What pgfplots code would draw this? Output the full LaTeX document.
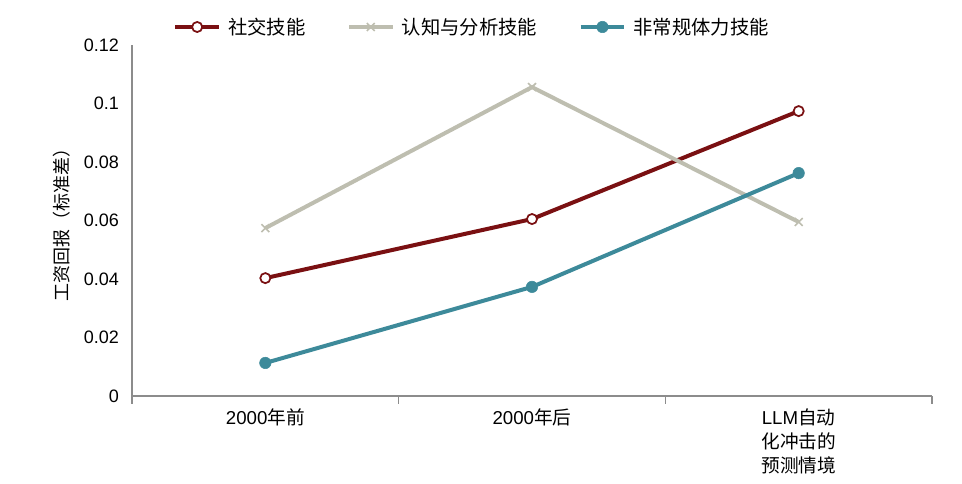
\documentclass[border=0pt]{standalone}
\usepackage{pgfplots}
\pgfplotsset{compat=1.18}
\usepackage{fontspec}
\setmainfont{Liberation Sans}
\newfontfamily\cjk{Noto Sans CJK SC}
\definecolor{cRed}{HTML}{7A1012}
\definecolor{cGray}{HTML}{BEBEB0}
\definecolor{cTeal}{HTML}{3D8A9A}
\definecolor{cAxis}{HTML}{8C8C8C}
\begin{document}
\begin{tikzpicture}
\begin{axis}[
  scale only axis,
  width=600pt, height=263.25pt,
  at={(0,0)}, anchor=south west,
  xmin=-0.5, xmax=2.5,
  ymin=0, ymax=0.12,
  axis x line*=bottom, axis y line*=left,
  axis line style={cAxis, line width=0.8pt},
  xtick={0,1,2},
  xticklabels={{2000{\cjk 年前}},{2000{\cjk 年后}},{LLM{\cjk 自动}\\{\cjk 化冲击的}\\{\cjk 预测情境}}},
  x tick label style={align=center, font=\fontsize{14}{18}\selectfont, yshift=-1.5pt},
  major x tick style={draw=none},
  minor xtick={-0.5,0.5,1.5,2.5},
  minor x tick style={cAxis, line width=0.8pt},
  minor tick length=6pt,
  tick align=outside,
  ytick={0,0.02,0.04,0.06,0.08,0.1,0.12},
  yticklabels={0,0.02,0.04,0.06,0.08,0.1,0.12},
  ytick style={draw=none},
  y tick label style={font=\fontsize{13.5}{15}\selectfont, xshift=-2pt},
  ylabel={{\cjk 工资回报（标准差）}},
  every axis y label/.style={at={(rel axis cs:0,0.5)}, xshift=-52.5pt, rotate=90, anchor=center, font=\cjk\fontsize{13.5}{15}\selectfont},
  clip=false,
  legend columns=3,
  legend style={draw=none, fill=none, at={(0.4256,1)}, anchor=center, yshift=13.5pt,
    font=\cjk\fontsize{14.5}{16}\selectfont,
    /tikz/every odd column/.append style={column sep=3.5pt},
    /tikz/every even column/.append style={column sep=29pt}},
  legend image code/.code={
    \draw[#1, mark=none] (0cm,0cm) -- (1.15cm,0cm);
    \draw[#1] plot coordinates {(0.575cm,0cm)};
  },
]
\addplot[cRed, line width=3pt, mark=*, mark size=3.8pt, mark options={fill=white, line width=1.3pt}]
  coordinates {(0,0.0403) (1,0.0605) (2,0.0974)};
\addlegendentry{社交技能}
\addplot[cGray, line width=3pt, mark=x, mark size=4.2pt, mark options={line width=1.2pt}]
  coordinates {(0,0.0574) (1,0.1056) (2,0.0595)};
\addlegendentry{认知与分析技能}
\addplot[cTeal, line width=3pt, mark=*, mark size=4.3pt, mark options={fill=cTeal, line width=0.4pt}]
  coordinates {(0,0.0113) (1,0.0373) (2,0.0762)};
\addlegendentry{非常规体力技能}
\end{axis}
\pgfresetboundingbox
\path[use as bounding box] (-99pt,-66pt) rectangle (622.5pt,297pt);
\end{tikzpicture}
\end{document}
